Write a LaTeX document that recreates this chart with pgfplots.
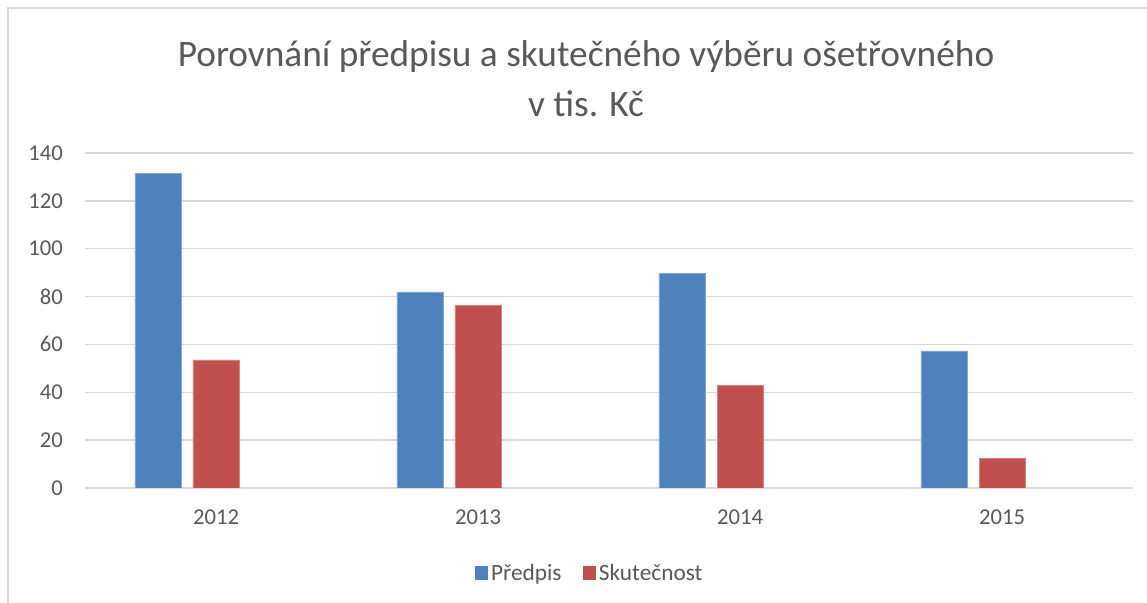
\documentclass[border=0pt]{standalone}
\usepackage{pgfplots}
\pgfplotsset{compat=1.18}
\usepackage{fontspec}
\setmainfont{Carlito}
\definecolor{cblue}{HTML}{4F81BD}
\definecolor{cred}{HTML}{C0504D}
\definecolor{ctext}{HTML}{595959}
\definecolor{cgrid}{HTML}{D9D9D9}
\begin{document}
\begin{tikzpicture}[x=0.75pt,y=0.75pt]
\path[use as bounding box] (0,0) rectangle (1147,603);
\draw[cgrid,line width=0.8pt] (8,0) -- (8,595) -- (1147,595);
\node[text=ctext,font=\fontsize{28}{32}\selectfont] at (586,546) {Porovnání předpisu a skutečného výběru ošetřovného};
\node[text=ctext,font=\fontsize{28}{32}\selectfont] at (586,499) {v tis. Kč};
\begin{axis}[
  at={(63.75pt,86.25pt)}, anchor=south west,
  scale only axis, width=786pt, height=251.25pt,
  xmin=-0.5, xmax=3.5, ymin=0, ymax=140,
  xtick={0,1,2,3}, xticklabels={2012,2013,2014,2015},
  ytick={0,20,...,140},
  ymajorgrids, grid style={cgrid,line width=1pt},
  axis line style={draw=none},
  major tick length=0pt,
  tick label style={text=ctext,font=\fontsize{17}{20}\selectfont},
  /pgf/number format/assume math mode=true,
  yticklabel style={xshift=-13pt},
  xticklabel style={yshift=-13pt},
  ybar, bar width=0.1756,
  legend style={at={(0.482,-0.254)},anchor=center,draw=none,legend columns=-1,
    font=\fontsize{17.5}{20}\selectfont,text=ctext,
    /tikz/every even column/.append style={column sep=14pt}},
  legend image code/.code={\fill[#1,draw=none] (0pt,-5pt) rectangle (10pt,5pt);},
]
\addplot[fill=cblue,draw=cblue!70!white,bar shift=-0.2214] coordinates {(0,131.6) (1,82) (2,89.8) (3,57.3)};
\addplot[fill=cred,draw=cred!70!white,bar shift=0] coordinates {(0,53.5) (1,76.2) (2,43) (3,12.5)};
\legend{Předpis,Skutečnost}
\end{axis}
\end{tikzpicture}
\end{document}
